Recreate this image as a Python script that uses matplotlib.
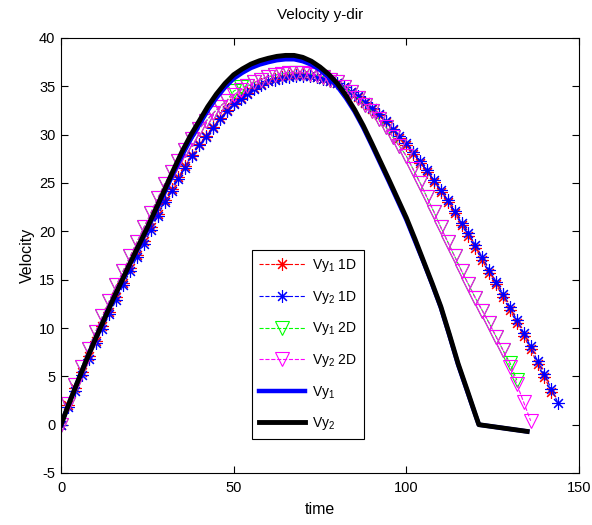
import numpy as np
import matplotlib
matplotlib.use("Agg")
import matplotlib.pyplot as plt

plt.rcParams['font.family'] = ['Liberation Sans', 'DejaVu Sans']
plt.rcParams['mathtext.fontset'] = 'custom'
plt.rcParams['mathtext.rm'] = 'Liberation Sans'
plt.rcParams['mathtext.it'] = 'Liberation Sans'
plt.rcParams['axes.unicode_minus'] = False

# ---- data -------------------------------------------------------------
# sampled solutions (every 2 time units)
t_1d_red = np.arange(0, 143, 2)
vy1_1d = [0, 2.0, 3.8, 5.4, 7.1, 8.7, 10.2, 11.7, 13.2, 14.7, 16.2, 17.6, 19.0,
          20.4, 21.8, 23.2, 24.4, 25.6, 26.8, 27.9, 29.0, 29.9, 30.8, 31.7,
          32.5, 33.3, 33.8, 34.3, 34.8, 35.2, 35.6, 35.8, 36.0, 36.1, 36.2,
          36.2, 36.1, 36.0, 35.8, 35.6, 35.3, 34.9, 34.4, 33.9, 33.3, 32.7,
          32.0, 31.3, 30.5, 29.7, 28.9, 28.0, 27.1, 26.1, 25.1, 24.1, 23.0,
          21.9, 20.7, 19.5, 18.3, 17.0, 15.7, 14.5, 13.2, 11.9, 10.5, 9.2,
          7.8, 6.3, 4.9, 3.4]

t_1d_blue = np.arange(0, 145, 2)
vy2_1d = [0, 1.8, 3.5, 5.1, 6.8, 8.4, 9.9, 11.4, 12.9, 14.4, 15.9, 17.3, 18.7,
          20.1, 21.6, 23.0, 24.2, 25.4, 26.6, 27.8, 28.9, 29.8, 30.7, 31.6,
          32.4, 33.2, 33.7, 34.2, 34.7, 35.1, 35.5, 35.7, 35.9, 36.0, 36.1,
          36.1, 36.05, 35.95, 35.8, 35.6, 35.3, 34.9, 34.45, 33.95, 33.4,
          32.8, 32.1, 31.4, 30.6, 29.9, 29.1, 28.2, 27.3, 26.3, 25.3, 24.3,
          23.2, 22.1, 20.9, 19.8, 18.6, 17.3, 16.0, 14.8, 13.5, 12.2, 10.8,
          9.5, 8.1, 6.6, 5.2, 3.7, 2.2]

t_2d_green = np.arange(0, 133, 2)
vy1_2d = [0, 2.1, 4.1, 6.0, 7.8, 9.6, 11.2, 12.8, 14.4, 15.9, 17.4, 18.9, 20.4,
          21.9, 23.4, 24.9, 26.1, 27.3, 28.4, 29.5, 30.6, 31.4, 32.2, 32.9,
          33.5, 34.5, 34.9, 35.0, 35.4, 35.7, 36.0, 36.15, 36.3, 36.4, 36.4,
          36.4, 36.3, 36.15, 36.0, 35.7, 35.4, 34.9, 34.4, 33.8, 33.1, 32.4,
          31.6, 30.8, 29.8, 28.8, 27.8, 26.4, 25.0, 23.5, 22.0, 20.4, 18.9,
          17.4, 15.9, 14.5, 13.1, 11.8, 10.5, 9.1, 7.7, 6.4, 4.6]

t_2d_mag = np.arange(0, 137, 2)
vy2_2d = [0, 2.1, 4.1, 6.0, 7.8, 9.6, 11.2, 12.8, 14.4, 15.9, 17.4, 18.9, 20.4,
          21.9, 23.4, 24.9, 26.1, 27.3, 28.4, 29.5, 30.6, 31.4, 32.2, 32.9,
          33.5, 34.1, 34.6, 35.0, 35.4, 35.7, 36.0, 36.15, 36.3, 36.4, 36.4,
          36.4, 36.3, 36.15, 36.0, 35.7, 35.4, 34.9, 34.4, 33.8, 33.1, 32.4,
          31.6, 30.8, 29.8, 28.8, 27.8, 26.4, 25.0, 23.5, 22.0, 20.4, 18.9,
          17.4, 15.9, 14.5, 13.1, 11.8, 10.5, 9.1, 7.7, 6.0, 4.2, 2.3, 0.4]

# reference trajectories (every 2.5 time units, then the tail)
t_ref = list(np.arange(0, 120.1, 2.5)) + [121, 135]
vy1_ref = [0, 2.35, 4.6, 6.8, 8.9, 10.9, 12.9, 14.75, 16.6, 18.4, 20.2, 22.1,
           24.0, 26.0, 27.8, 29.5, 31.0, 32.5, 33.8, 34.9, 35.8, 36.4, 36.9,
           37.25, 37.5, 37.7, 37.8, 37.8, 37.6, 37.25, 36.7, 35.95, 35.0,
           33.8, 32.4, 30.75, 28.9, 27.0, 25.1, 23.15, 21.2, 19.0, 16.8, 14.5,
           12.1, 9.2, 6.2, 3.6, 1.0, 0.0, -0.7]
vy2_ref = [0, 2.35, 4.6, 6.8, 8.9, 10.9, 12.9, 14.8, 16.7, 18.55, 20.4, 22.35,
           24.3, 26.3, 28.2, 29.9, 31.4, 32.9, 34.2, 35.3, 36.2, 36.8, 37.3,
           37.65, 37.9, 38.1, 38.2, 38.2, 38.0, 37.6, 37.0, 36.25, 35.3,
           34.05, 32.6, 30.95, 29.1, 27.2, 25.3, 23.35, 21.4, 19.2, 16.9,
           14.6, 12.2, 9.3, 6.3, 3.7, 1.05, 0.0, -0.7]

labels = [r'Vy$_1$ 1D', r'Vy$_2$ 1D', r'Vy$_1$ 2D', r'Vy$_2$ 2D',
          r'Vy$_1$', r'Vy$_2$']
x_ticks = [0, 50, 100, 150]
y_ticks = [-5, 0, 5, 10, 15, 20, 25, 30, 35, 40]

# ---- figure -----------------------------------------------------------
fig = plt.figure(figsize=(5.92, 5.25), dpi=100)
ax = fig.add_axes([61 / 592, 52 / 525, 518 / 592, 435 / 525])

asterisk = (8, 2, 0)
ax.plot(t_1d_red, vy1_1d, '--', color='red', marker=asterisk, ms=9,
        mew=0.8, lw=0.8, label=labels[0])
ax.plot(t_1d_blue, vy2_1d, '--', color='blue', marker=asterisk, ms=9,
        mew=0.8, lw=0.8, label=labels[1])
ax.plot(t_2d_green, vy1_2d, '--', color='#00ff00', marker='v', ms=10,
        mfc='none', mew=0.8, lw=0.8, label=labels[2])
ax.plot(t_2d_mag, vy2_2d, '--', color='magenta', marker='v', ms=10,
        mfc='none', mew=0.8, lw=0.8, label=labels[3])
ax.plot(t_ref, vy1_ref, '-', color='blue', lw=3.2, label=labels[4])
ax.plot(t_ref, vy2_ref, '-', color='black', lw=3.5, label=labels[5])

ax.set_xlim(0, 150)
ax.set_ylim(-5, 40)
ax.set_xticks(x_ticks)
ax.set_yticks(y_ticks)
ax.tick_params(direction='in', length=5, width=0.8, top=True, right=True,
               labelsize=10.5, pad=4, colors='black')
ax.tick_params(axis='x', pad=6)
for s in ax.spines.values():
    s.set_linewidth(0.8)
    s.set_color('black')

ax.set_title('Velocity y-dir', fontsize=11, pad=14)
ax.set_xlabel('time', fontsize=11.5, labelpad=5)
ax.set_ylabel('Velocity', fontsize=11.5, labelpad=3)

leg = ax.legend(loc='upper left', bbox_to_anchor=(0.369, 0.512),
                fontsize=10, frameon=True, fancybox=False, edgecolor='black',
                framealpha=1, labelspacing=1.05, handlelength=3.3,
                handletextpad=0.5, borderpad=0.5, borderaxespad=0)
leg.get_frame().set_linewidth(0.8)

fig.savefig('out.png', dpi=100, facecolor='white')
